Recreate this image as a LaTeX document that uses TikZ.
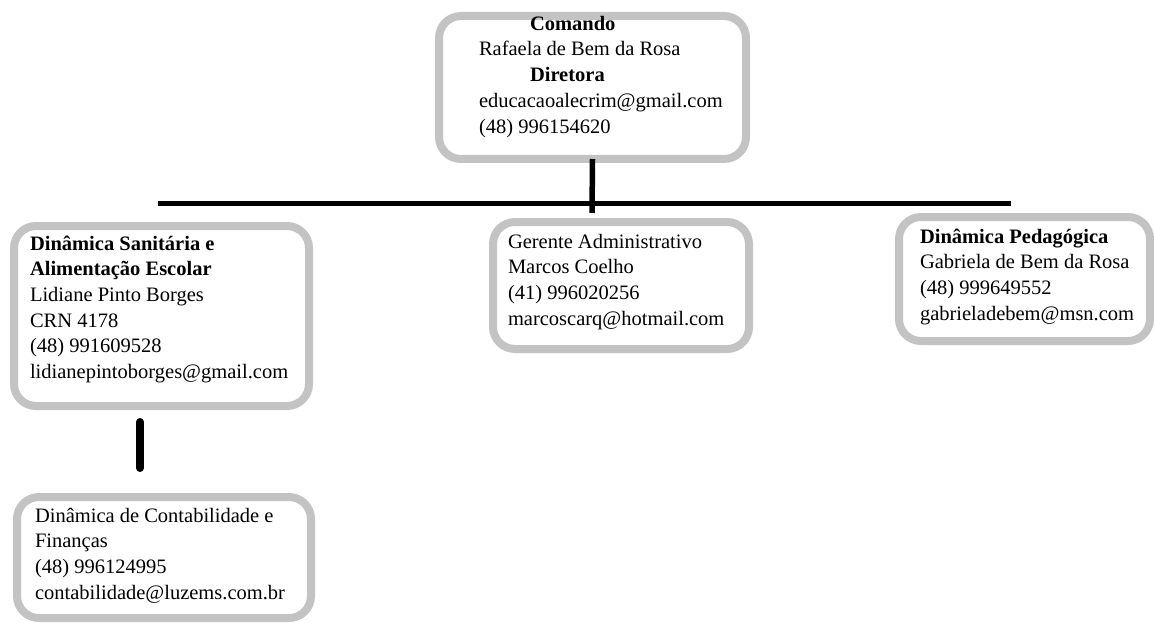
\documentclass[tikz,border=0pt]{standalone}
\usepackage{fontspec}
\setmainfont{Liberation Serif}
\definecolor{boxgray}{HTML}{C3C3C3}
% height, width, left pad, first baseline, lines
\newcommand{\cardtext}[5]{\parbox[c][#1pt][t]{#2pt}{\fontsize{20.5}{25.7}\selectfont
  \raggedright\leftskip=#3pt\rule{0pt}{#4pt}#5}}

\begin{document}
\begin{tikzpicture}[x=1pt,y=-1pt,
    orgbox/.style={draw=boxgray, line width=8pt, rounded corners=22pt, fill=white,
      inner sep=0pt, outer sep=0pt}]
  \useasboundingbox (0,0) rectangle (1154,623);
  \def\ind{51pt} % indent of the titles
  \coordinate (L) at (158,203);
  \coordinate (R) at (1011,203);
  \coordinate (J) at (592,213);
  \coordinate (S1) at (140,422);
  \coordinate (S2) at (140,468);

  \node[orgbox] (comando) at (592.5,87.5) {\cardtext{143}{307}{40}{14}{%
    \hspace*{\ind}\textbf{Comando}\\Rafaela de Bem da Rosa\\
    \hspace*{\ind}\textbf{Diretora}\\educacaoalecrim@gmail.com\\(48) 996154620}};
  \node[orgbox] (sanitaria) at (161.5,316) {\cardtext{180}{295}{16}{24}{%
    \textbf{Dinâmica Sanitária e}\\\textbf{Alimentação Escolar}\\Lidiane Pinto Borges\\
    CRN 4178\\(48) 991609528\\lidianepintoborges@gmail.com}};
  \node[orgbox] (gerente) at (621,285.5) {\cardtext{127}{256}{15}{26}{%
    Gerente Administrativo\\Marcos Coelho\\(41) 996020256\\marcoscarq@hotmail.com}};
  \node[orgbox] (pedagogica) at (1024.5,279) {\cardtext{124}{251}{21}{26}{%
    \textbf{Dinâmica Pedagógica}\\Gabriela de Bem da Rosa\\(48) 999649552\\gabrieladebem@msn.com}};
  \node[orgbox] (contabil) at (164,557.5) {\cardtext{121}{294}{18}{25}{%
    Dinâmica de Contabilidade e\\Finanças\\(48) 996124995\\contabilidade@luzems.com.br}};

  \draw[line width=5pt] (L) -- (R);
  \draw[line width=5.5pt] (comando.south) -- (J);
  \draw[line width=8pt, line cap=round] (S1) -- (S2);
\end{tikzpicture}
\end{document}
